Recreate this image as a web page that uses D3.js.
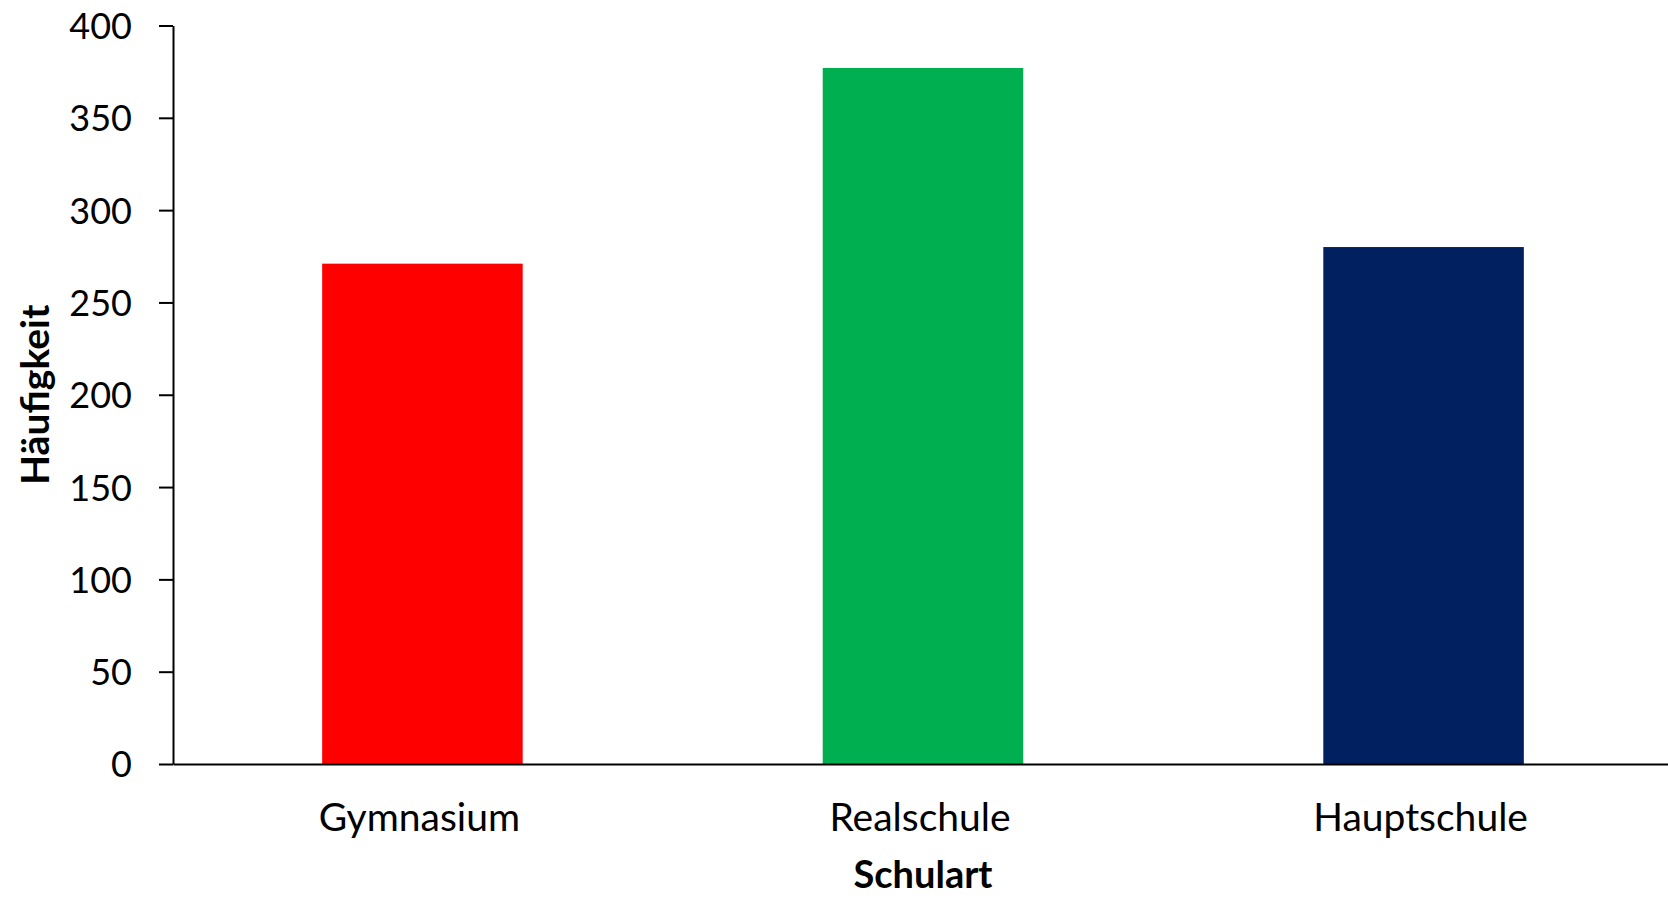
<!DOCTYPE html>
<html>
<head>
<meta charset="utf-8">
<script src="https://cdn.jsdelivr.net/npm/d3@7"></script>
<style>
  html, body { margin: 0; padding: 0; background: #fff; }
  #chart { width: 1668px; height: 898px; }
  text { font-family: Lato, "Open Sans", sans-serif; fill: #000; }
</style>
</head>
<body>
<div id="chart"></div>
<script>
const categories = ["Gymnasium", "Realschule", "Hauptschule"];
const counts = [271, 377, 280];
const barColors = ["#ff0000", "#00b050", "#002060"];
const yTicks = [0, 50, 100, 150, 200, 250, 300, 350, 400];

function draw() {
  const w = 1668, h = 898;
  const margin = { top: 25.5, right: 0, bottom: 134, left: 173 };
  const innerW = w - margin.left - margin.right;
  const innerH = h - margin.top - margin.bottom;

  const svg = d3.select("#chart")
    .append("svg")
    .attr("width", w)
    .attr("height", h);

  const g = svg.append("g")
    .attr("transform", `translate(${margin.left},${margin.top})`);

  // category slots run a little past the right edge, like the source
  const x = d3.scaleBand()
    .domain(categories)
    .range([0, 1500])
    .paddingInner(0.5994)
    .paddingOuter(0.298);

  const y = d3.scaleLinear()
    .domain([0, 400])
    .range([innerH, 0]);

  // bars
  g.selectAll("rect.bar")
    .data(categories)
    .join("rect")
    .attr("class", "bar")
    .attr("x", d => x(d))
    .attr("width", x.bandwidth())
    .attr("y", (d, i) => y(counts[i]))
    .attr("height", (d, i) => innerH - y(counts[i]))
    .attr("fill", (d, i) => barColors[i]);

  // y axis
  const yAxis = g.append("g")
    .call(d3.axisLeft(y).tickValues(yTicks).tickSize(14).tickSizeOuter(0).tickPadding(27));
  yAxis.select(".domain").attr("stroke", "#000").attr("stroke-width", 2);
  yAxis.selectAll(".tick line").attr("stroke", "#000").attr("stroke-width", 2);
  yAxis.selectAll(".tick text")
    .attr("font-size", 36)
    .attr("font-family", "Lato, sans-serif")
    .attr("dy", "0.36em");

  // x axis
  const xAxis = g.append("g")
    .attr("transform", `translate(0,${innerH})`)
    .call(d3.axisBottom(x).tickSize(0).tickSizeOuter(0).tickPadding(0));
  xAxis.select(".domain").attr("stroke", "#000").attr("stroke-width", 2);
  xAxis.selectAll(".tick text")
    .attr("font-size", 39)
    .attr("font-family", "Lato, sans-serif")
    .attr("x", -3)
    .attr("y", 67)
    .attr("dy", 0);

  // axis titles
  svg.append("text")
    .attr("x", 923)
    .attr("y", 888)
    .attr("text-anchor", "middle")
    .attr("font-size", 38)
    .attr("font-weight", "bold")
    .text("Schulart");

  svg.append("text")
    .attr("transform", `translate(49,${margin.top + innerH / 2}) rotate(-90)`)
    .attr("text-anchor", "middle")
    .attr("font-size", 39)
    .attr("font-weight", "bold")
    .text("Häufigkeit");
}

draw();
</script>
</body>
</html>
